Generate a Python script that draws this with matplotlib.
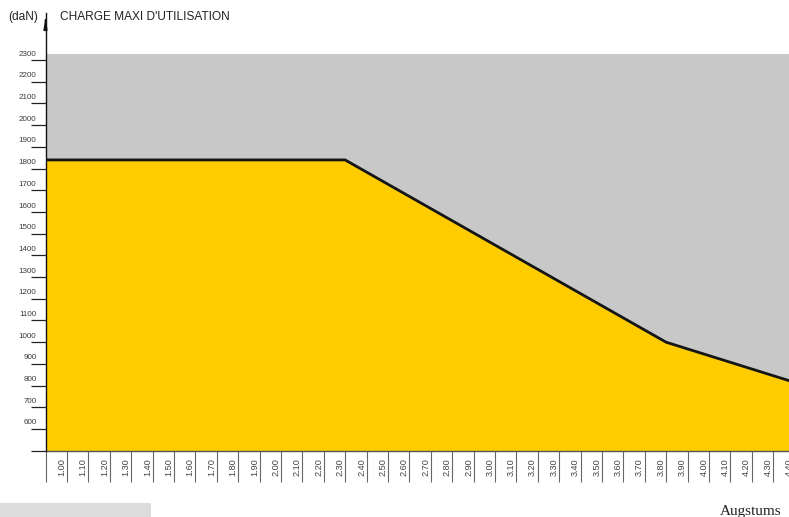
import matplotlib
matplotlib.use('Agg')
import matplotlib.pyplot as plt
from matplotlib.transforms import ScaledTranslation
from matplotlib.patches import Rectangle

plt.rcParams['font.family'] = ['Liberation Sans', 'DejaVu Sans']

# ---- data ----
reach = [0.90, 2.30, 3.80, 4.40]          # m
load = [1840, 1840, 1000, 815]            # daN (max working load)
chart_top = 2330                          # top of grey background band
y_ticks = [500, 600, 700, 800, 900, 1000, 1100, 1200, 1300, 1400, 1500,
           1600, 1700, 1800, 1900, 2000, 2100, 2200, 2300]
y_labels = ['', '600', '700', '800', '900', '1000', '1100', '1200', '1300',
            '1400', '1500', '1600', '1700', '1800', '1900', '2000', '2100',
            '2200', '2300']
x_ticks = [0.90, 1.00, 1.10, 1.20, 1.30, 1.40, 1.50, 1.60, 1.70, 1.80, 1.90,
           2.00, 2.10, 2.20, 2.30, 2.40, 2.50, 2.60, 2.70, 2.80, 2.90, 3.00,
           3.10, 3.20, 3.30, 3.40, 3.50, 3.60, 3.70, 3.80, 3.90, 4.00, 4.10,
           4.20, 4.30, 4.40]
x_labels = ['', '1.00', '1.10', '1.20', '1.30', '1.40', '1.50', '1.60', '1.70',
            '1.80', '1.90', '2.00', '2.10', '2.20', '2.30', '2.40', '2.50',
            '2.60', '2.70', '2.80', '2.90', '3.00', '3.10', '3.20', '3.30',
            '3.40', '3.50', '3.60', '3.70', '3.80', '3.90', '4.00', '4.10',
            '4.20', '4.30', '4.40']

W, H = 789, 517
fig = plt.figure(figsize=(W / 100, H / 100), dpi=100)
fig.patch.set_facecolor('white')

x0_px, y0_px, top_px = 45.5, 450.7, 13
px_per_unit = 214
xmin, xmax = 0.9, 4.5
ax = fig.add_axes([x0_px / W, (H - y0_px) / H,
                   (xmax - xmin) * px_per_unit / W, (y0_px - top_px) / H])
ax.set_facecolor('white')
ax.set_xlim(xmin, xmax)
ax.set_ylim(500, 500 + (y0_px - top_px) / 21.7 * 100)

ax.axhspan(500, chart_top, color='#c8c8c8', lw=0, zorder=0)
ax.fill_between(reach, load, 500, color='#ffcc00', lw=0, zorder=1)
ax.plot(reach, load, color='#151515', lw=2.0, solid_joinstyle='round',
        zorder=3)

for s in ('top', 'right'):
    ax.spines[s].set_visible(False)
ax.spines['left'].set_color('#111111')
ax.spines['left'].set_linewidth(1.0)
ax.spines['bottom'].set_color('#555555')
ax.spines['bottom'].set_linewidth(1.0)
ax.spines['left'].set_zorder(4)

# y ticks
ax.set_yticks(y_ticks, y_labels)
ax.tick_params(axis='y', length=10.8, width=0.9, color='#222222',
               labelsize=5.8, labelcolor='#3a3a3a', pad=0)
for lab in ax.get_yticklabels():
    lab.set_va('bottom')
    lab.set_transform(lab.get_transform() +
                      ScaledTranslation(6 / 100, 2.5 / 100, fig.dpi_scale_trans))

# x ticks
ax.set_xticks(x_ticks, x_labels)
ax.tick_params(axis='x', length=22.3, width=0.8, color='#666666',
               labelsize=6.6, labelcolor='#444444', labelrotation=90, pad=0)
for lab in ax.get_xticklabels():
    lab.set_transform(lab.get_transform() +
                      ScaledTranslation(-5 / 100, 23.5 / 100, fig.dpi_scale_trans))

# arrow on y axis
ax.annotate('', xy=(0, 1.0), xytext=(0, 0.975), xycoords='axes fraction',
            arrowprops=dict(arrowstyle='-|>,head_length=0.7,head_width=0.1',
                            color='#111111', lw=1.0), annotation_clip=False)

fig.text(8 / W, 1 - 17 / H, '(daN)', fontsize=8.6, color='#222222',
         va='center', ha='left')
fig.text(60 / W, 1 - 17 / H, "CHARGE MAXI D'UTILISATION", fontsize=8.6,
         color='#222222', va='center', ha='left')

fig.add_artist(Rectangle((0, 0), 150.7 / W, 14.3 / H, transform=fig.transFigure,
                         color='#dcdcdc', lw=0))
fig.text(720 / W, (H - 515) / H, 'Augstums', fontsize=11, color='#222222',
         family='Liberation Serif', va='baseline', ha='left')

fig.savefig('out.png', dpi=100, facecolor='white')
